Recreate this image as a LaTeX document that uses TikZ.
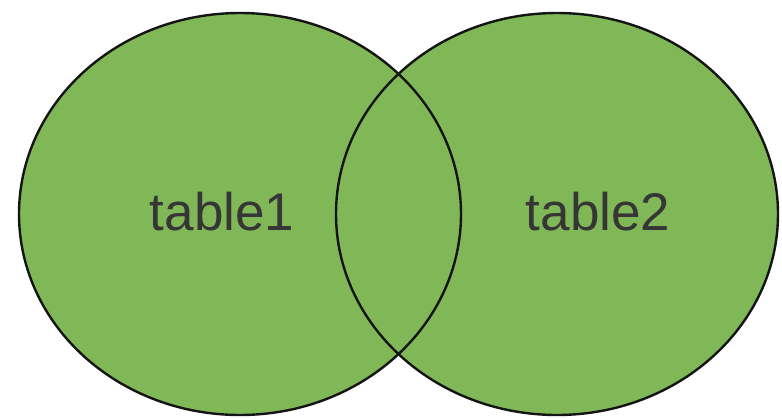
\documentclass[tikz,border=0pt]{standalone}
\usepackage{fontspec}
\setmainfont{Liberation Sans}
\usepackage{tikz}
\definecolor{vngreen}{HTML}{80B857}
\definecolor{vnedge}{HTML}{141414}
\definecolor{vntext}{HTML}{363636}

\begin{document}
\begin{tikzpicture}[x=1pt, y=-1pt]
  \useasboundingbox (0,0) rectangle (782,418);
  \fill[vngreen] (240,214) ellipse [x radius=221, y radius=201];
  \fill[vngreen] (557,214) ellipse [x radius=221, y radius=201];
  \draw[vnedge, line width=2.4pt] (240,214) ellipse [x radius=221, y radius=201];
  \draw[vnedge, line width=2.4pt] (557,214) ellipse [x radius=221, y radius=201];
  \node[font=\fontsize{53}{60}\selectfont, text=vntext] (tabone) at (222,212) {table1};
  \node[font=\fontsize{53}{60}\selectfont, text=vntext] (tabtwo) at (598,212) {table2};
\end{tikzpicture}
\end{document}
